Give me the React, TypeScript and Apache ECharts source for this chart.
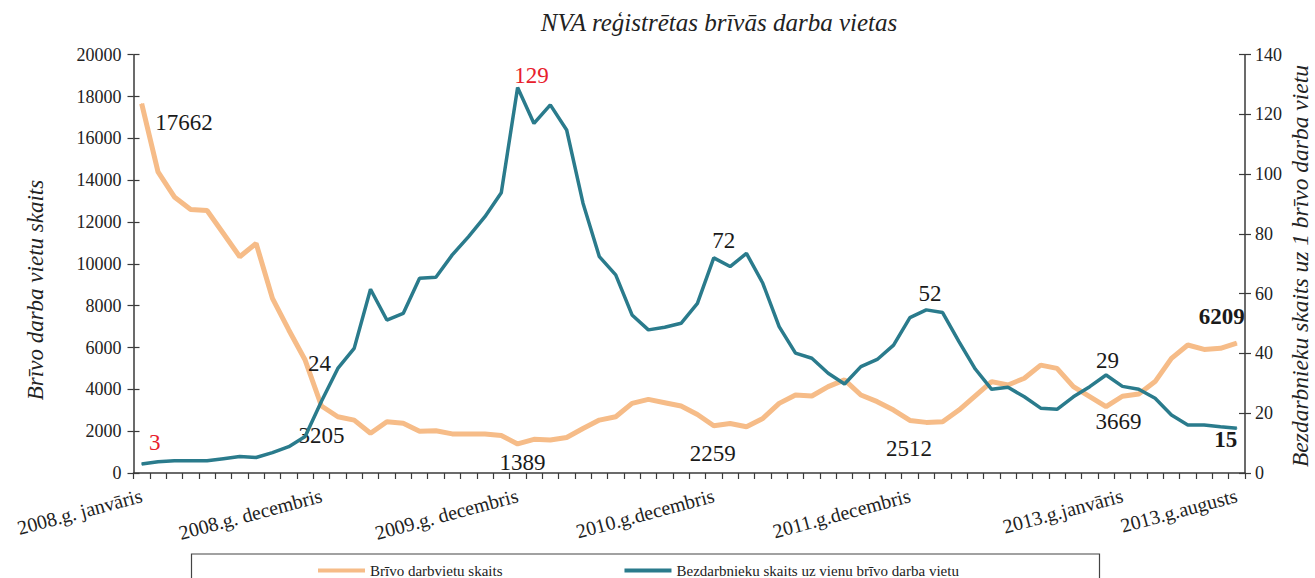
import React, { useEffect, useRef } from "react";
import * as echarts from "echarts";

// Monthly categories: 2008 Jan .. 2013 Aug (68 months)
const monthNames = ["janvāris", "februāris", "marts", "aprīlis", "maijs", "jūnijs", "jūlijs", "augusts", "septembris", "oktobris", "novembris", "decembris"];
const startYear = 2008;
const monthCount = 68;

// Tick labels shown on the x axis (index -> text)
const shownLabelIdx = [0, 11, 23, 35, 47, 60, 67];
const shownLabelText = ["2008.g. janvāris", "2008.g. decembris", "2009.g. decembris", "2010.g.decembris", "2011.g.decembris", "2013.g.janvāris", "2013.g.augusts"];

// Brīvo darbvietu skaits (left axis)
const vacancies = [
  17662, 14400, 13200, 12600, 12550, 11450, 10340, 10980, 8350, 6840, 5400, 3205,
  2690, 2530, 1900, 2450, 2380, 2000, 2020, 1870, 1870, 1860, 1790, 1389,
  1610, 1580, 1700, 2130, 2530, 2690, 3330, 3520, 3360, 3200, 2800, 2259,
  2370, 2215, 2610, 3330, 3730, 3680, 4130, 4450, 3730, 3410, 3010, 2512,
  2420, 2450, 3010, 3690, 4370, 4210, 4530, 5160, 5000, 4130, 3650, 3170,
  3669, 3780, 4370, 5480, 6120, 5910, 5960, 6209,
];

// Bezdarbnieku skaits uz vienu brīvo darba vietu (right axis)
const ratio = [
  3, 3.8, 4.1, 4.1, 4.1, 4.8, 5.5, 5.2, 6.8, 8.8, 12.2, 24,
  35, 41.7, 61.5, 51.2, 53.4, 65.2, 65.5, 73, 79.1, 85.8, 93.8, 129,
  117, 123.2, 114.8, 90.3, 72.4, 66.3, 52.9, 47.9, 48.8, 50.1, 56.8, 72,
  69.1, 73.5, 63.5, 49, 40.1, 38.4, 33.4, 29.8, 35.6, 38, 42.8, 52,
  54.6, 53.7, 44, 34.8, 28, 28.7, 25.5, 21.7, 21.3, 25.5, 28.9, 32.8,
  29, 28, 25, 19.4, 16.1, 16.1, 15.5, 15,
];

// Annotated points: [index, offsetX, offsetY, position, colour, bold]
const vacancyNotes: [number, number, number, string, string, boolean][] = [
  [0, 8, 19, "right", "#1a1a1a", false],
  [11, 0, 13, "bottom", "#1a1a1a", false],
  [23, 5, 2, "bottom", "#1a1a1a", false],
  [35, -1, 11, "bottom", "#1a1a1a", false],
  [47, -1, 11, "bottom", "#1a1a1a", false],
  [60, -4, 8, "bottom", "#1a1a1a", false],
  [67, -15, -10, "top", "#1a1a1a", true],
];
const ratioNotes: [number, number, number, string, string, boolean][] = [
  [0, 13, -5, "top", "#e8202c", false],
  [11, -2, -21, "top", "#1a1a1a", false],
  [23, 14, 5, "top", "#e8202c", false],
  [35, 10, 0, "top", "#1a1a1a", false],
  [47, 20, -7, "top", "#1a1a1a", false],
  [60, -15, -9, "top", "#1a1a1a", false],
  [67, -11, -6, "bottom", "#1a1a1a", true],
];

const SERIF = "Liberation Serif";
const ORANGE = "#f6bc88";
const TEAL = "#2a7b8c";
const AXIS = "#3a3a3a";

function withNotes(values: number[], notes: [number, number, number, string, string, boolean][]) {
  return values.map((v, i) => {
    const n = notes.find((x) => x[0] === i);
    if (!n) return v;
    return {
      value: v,
      label: {
        show: true,
        position: n[3],
        offset: [n[1], n[2]],
        color: n[4],
        fontWeight: n[5] ? "bold" : "normal",
        fontSize: 23,
        fontFamily: SERIF,
      },
    };
  });
}

export default function App() {
  const ref = useRef<HTMLDivElement>(null);
  useEffect(() => {
    if (!ref.current) return;
    const chart = echarts.init(ref.current, null, { renderer: "svg" });
    const categories: string[] = [];
    for (let i = 0; i < monthCount; i++) {
      const k = shownLabelIdx.indexOf(i);
      if (k >= 0) categories.push(shownLabelText[k]);
      else categories.push(`${startYear + Math.floor(i / 12)}.g. ${monthNames[i % 12]}`);
    }
    const yCommon = {
      type: "value",
      splitLine: { show: false },
      axisLine: { show: true, lineStyle: { color: AXIS, width: 1.5 } },
    };
    chart.setOption({
      animation: false,
      backgroundColor: "#ffffff",
      textStyle: { fontFamily: SERIF },
      grid: { left: 133.5, right: 70, top: 54.7, bottom: 105, containLabel: false },
      graphic: [
        {
          type: "text",
          x: 719,
          y: 22,
          style: {
            text: "NVA reģistrētas brīvās darba vietas",
            textAlign: "center",
            textVerticalAlign: "middle",
            font: `italic 25px ${SERIF}`,
            fill: "#222",
          },
        },
        {
          type: "text",
          x: 35,
          y: 290,
          rotation: Math.PI / 2,
          style: {
            text: "Brīvo darba vietu skaits",
            textAlign: "center",
            textVerticalAlign: "middle",
            font: `italic 23px ${SERIF}`,
            fill: "#222",
          },
        },
        {
          type: "text",
          x: 1300,
          y: 266,
          rotation: Math.PI / 2,
          style: {
            text: "Bezdarbnieku skaits uz 1 brīvo darba vietu",
            textAlign: "center",
            textVerticalAlign: "middle",
            font: `italic 23.5px ${SERIF}`,
            fill: "#222",
          },
        },
        {
          type: "rect",
          shape: { x: 191.5, y: 554, width: 908, height: 40 },
          style: { fill: "none", stroke: "#444", lineWidth: 1.2 },
        },
      ],
      legend: {
        top: 558,
        left: 313,
        itemGap: 122,
        itemWidth: 47,
        itemHeight: 4,
        icon: "rect",
        textStyle: { fontFamily: SERIF, fontSize: 15, color: "#222" },
        data: ["Brīvo darbvietu skaits", "Bezdarbnieku skaits uz vienu brīvo darba vietu"],
      },
      xAxis: {
        type: "category",
        data: categories,
        boundaryGap: true,
        axisLine: { lineStyle: { color: AXIS, width: 1.5 } },
        axisTick: { show: true, interval: 0, length: 6, lineStyle: { color: AXIS, width: 1.2 } },
        axisLabel: {
          interval: (idx: number) => shownLabelIdx.indexOf(idx) >= 0,
          rotate: 15,
          margin: 22,
          fontFamily: SERIF,
          fontSize: 20,
          color: "#222",
        },
      },
      yAxis: [
        {
          ...yCommon,
          position: "left",
          min: 0,
          max: 20000,
          interval: 2000,
          axisTick: { show: true, length: 6, lineStyle: { color: AXIS, width: 1.2 } },
          axisLabel: { fontFamily: SERIF, fontSize: 18, color: "#222", margin: 12, formatter: (v: number) => String(v) },
        },
        {
          ...yCommon,
          position: "right",
          min: 0,
          max: 140,
          interval: 20,
          axisTick: { show: true, length: 6, lineStyle: { color: AXIS, width: 1.2 } },
          axisLabel: { fontFamily: SERIF, fontSize: 18, color: "#222", margin: 10, formatter: (v: number) => String(v) },
        },
        {
          ...yCommon,
          position: "left",
          min: 0,
          max: 20000,
          interval: 2000,
          axisLine: { show: false },
          axisTick: { show: true, inside: true, length: 6, lineStyle: { color: AXIS, width: 1.2 } },
          axisLabel: { show: false },
        },
        {
          ...yCommon,
          position: "right",
          min: 0,
          max: 140,
          interval: 20,
          axisLine: { show: false },
          axisTick: { show: true, inside: true, length: 6, lineStyle: { color: AXIS, width: 1.2 } },
          axisLabel: { show: false },
        },
      ],
      series: [
        {
          name: "Brīvo darbvietu skaits",
          type: "line",
          yAxisIndex: 0,
          data: withNotes(vacancies, vacancyNotes),
          symbol: "circle",
          symbolSize: 1,
          showSymbol: true,
          itemStyle: { color: ORANGE },
          lineStyle: { color: ORANGE, width: 5 },
          label: { show: false },
          z: 2,
        },
        {
          name: "Bezdarbnieku skaits uz vienu brīvo darba vietu",
          type: "line",
          yAxisIndex: 1,
          data: withNotes(ratio, ratioNotes),
          symbol: "circle",
          symbolSize: 1,
          showSymbol: true,
          itemStyle: { color: TEAL },
          lineStyle: { color: TEAL, width: 3.5 },
          label: { show: false },
          z: 3,
        },
      ],
    });
    return () => chart.dispose();
  }, []);
  return <div ref={ref} style={{ width: 1315, height: 578, position: "absolute", left: 0, top: 0 }} />;
}
